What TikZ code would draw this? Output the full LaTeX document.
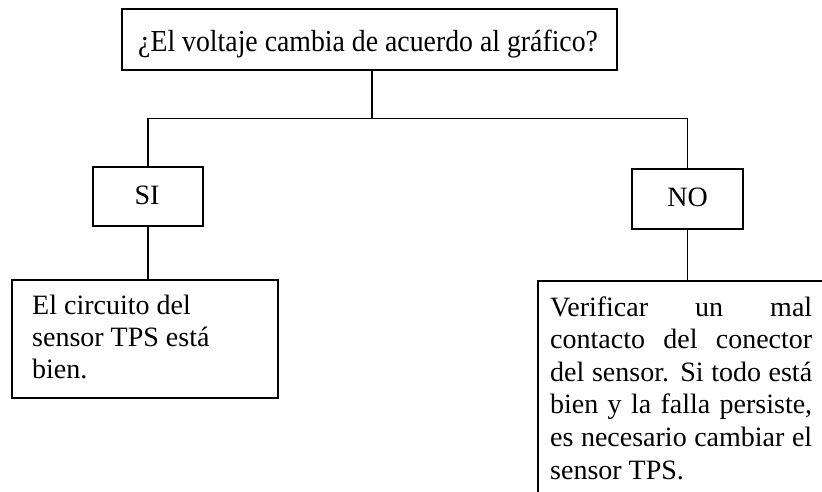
\documentclass[tikz,border=0pt]{standalone}
\usepackage{fontspec}
\setmainfont{Liberation Serif}
\usepackage{graphicx}
\begin{document}
\begin{tikzpicture}[x=1pt,y=-1pt,
  box/.style={draw, line width=1.3pt, rectangle, inner sep=0pt},
  conn/.style={line width=1.3pt},
  lbl/.style={inner sep=0pt, font=\fontsize{28}{32}\selectfont},
  biglbl/.style={inner sep=0pt, font=\fontsize{30.5}{36}\selectfont}]
\useasboundingbox (0,0) rectangle (822,491);
\clip (0,0) rectangle (822,491);
% boxes
\node[box, minimum width=495pt, minimum height=61pt] (q) at (369.5,39.5) {};
\node[box, minimum width=110pt, minimum height=59pt] (si) at (148,196.5) {};
\node[box, minimum width=111pt, minimum height=60pt] (no) at (687.5,199) {};
\node[box, minimum width=266pt, minimum height=118pt] (r1) at (145,339) {};
\node[box, minimum width=300pt, minimum height=240pt] (r2) at (688,401) {};
% texts
\node[biglbl, anchor=base west] (qt) at (138,51) {\scalebox{0.911}[1]{¿El voltaje cambia de acuerdo al gráfico?}};
\node[lbl, anchor=base] (sit) at (147,204) {SI};
\node[lbl, anchor=base] (not) at (687.5,206) {NO};
\node[lbl, anchor=base west, align=left] (r1t) at (32,378) {El circuito del\\sensor TPS está\\bien.};
\node[inner sep=0pt, font=\fontsize{28}{32.6}\selectfont, anchor=base west, align=left] (r2t) at (550,479)
 {\makebox[262pt][s]{Verificar un mal}\\
  \makebox[262pt][s]{contacto del conector}\\
  \makebox[262pt][s]{del sensor. Si todo está}\\
  \makebox[262pt][s]{bien y la falla persiste,}\\
  \makebox[262pt][s]{es necesario cambiar el}\\
  sensor TPS.};
% connectors
\coordinate (split) at ([xshift=2.5pt]q.south);
\draw[conn] (split) -- ++(0,48) coordinate (hub);
\draw[conn] (hub) -| (si.north);
\draw[conn] (hub) -| (no.north);
\draw[conn] (si.south) -- (si.south |- r1.north);
\draw[conn] (no.south) -- (no.south |- r2.north);
\end{tikzpicture}
\end{document}
